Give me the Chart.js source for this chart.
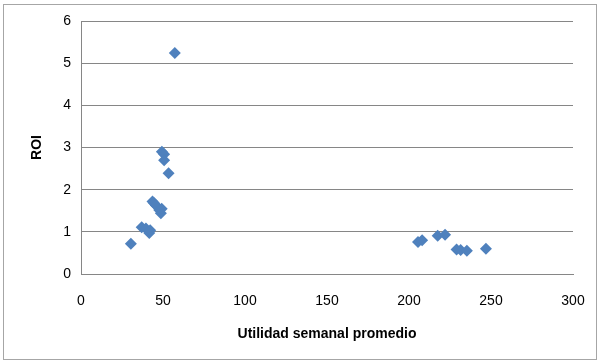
<!DOCTYPE html>
<html>
<head>
<meta charset="utf-8">
<script src="https://cdn.jsdelivr.net/npm/chart.js@4/dist/chart.umd.min.js"></script>
<style>
html,body{margin:0;padding:0;background:#fff;}
#wrap{position:relative;width:600px;height:363px;}
</style>
</head>
<body>
<div id="wrap"><canvas id="c" width="600" height="363"></canvas></div>
<script>
const utilidad = [30.4, 37.0, 39.6, 41.6, 42.2, 43.6, 44.6, 45.6, 47.7, 48.7, 49.2, 49.3, 50.7, 50.7, 53.4, 57.2,
                  205.5, 208.0, 217.5, 222.0, 229.0, 231.5, 235.3, 246.9];
const roi      = [0.72, 1.11, 1.08, 0.97, 1.04, 1.72, 1.68, 1.63, 1.52, 1.44, 1.55, 2.90, 2.84, 2.70, 2.39, 5.24,
                  0.76, 0.80, 0.91, 0.93, 0.58, 0.57, 0.55, 0.60];
const xTicks = [0, 50, 100, 150, 200, 250, 300];
const yTicks = [0, 1, 2, 3, 4, 5, 6];
const xTitle = 'Utilidad semanal promedio';
const yTitle = 'ROI';

const points = utilidad.map((x, i) => ({x: x, y: roi[i]}));

const borderPlugin = {
  id: 'outerBorder',
  beforeDraw(chart) {
    const ctx = chart.ctx;
    ctx.save();
    ctx.fillStyle = '#fff';
    ctx.fillRect(0, 0, chart.width, chart.height);
    ctx.strokeStyle = '#a6a6a6';
    ctx.lineWidth = 1;
    ctx.strokeRect(3.5, 4.5, 593, 355);
    ctx.restore();
  }
};

const fam = '"Liberation Sans", Arial, sans-serif';
const font = {family: fam, size: 14};

new Chart(document.getElementById('c'), {
  type: 'scatter',
  data: {
    datasets: [{
      data: points,
      pointStyle: 'rectRot',
      pointRadius: 6,
      pointHoverRadius: 6,
      backgroundColor: '#4F81BD',
      borderColor: '#4F81BD',
      borderWidth: 0
    }]
  },
  options: {
    responsive: false,
    animation: false,
    events: [],
    layout: {padding: {top: 21, right: 27, left: 0, bottom: 0}},
    plugins: {legend: {display: false}, tooltip: {enabled: false}},
    scales: {
      x: {
        type: 'linear', min: 0, max: 300,
        afterBuildTicks(s) { s.ticks = xTicks.map(v => ({value: v})); },
        afterFit(s) { s.height = 363 - 274; s.paddingRight = 0; s.paddingLeft = 0; },
        grid: {display: false, drawTicks: false},
        border: {display: true, color: '#868686', width: 1},
        ticks: {color: '#000', font: font, padding: 19, maxRotation: 0},
        title: {display: true, text: xTitle, color: '#000', font: {family: fam, size: 14, weight: 'bold'}, padding: {top: 4, bottom: 20}}
      },
      y: {
        type: 'linear', min: 0, max: 6,
        afterBuildTicks(s) { s.ticks = yTicks.map(v => ({value: v})); },
        afterFit(s) { s.width = 81; s.paddingTop = 0; s.paddingBottom = 0; },
        grid: {color: '#868686', drawTicks: false},
        border: {display: true, color: '#868686', width: 1},
        ticks: {color: '#000', font: font, padding: 10},
        title: {display: true, text: yTitle, color: '#000', font: {family: fam, size: 14, weight: 'bold'}, padding: {top: 29, bottom: 0}}
      }
    }
  },
  plugins: [borderPlugin]
});
</script>
</body>
</html>
